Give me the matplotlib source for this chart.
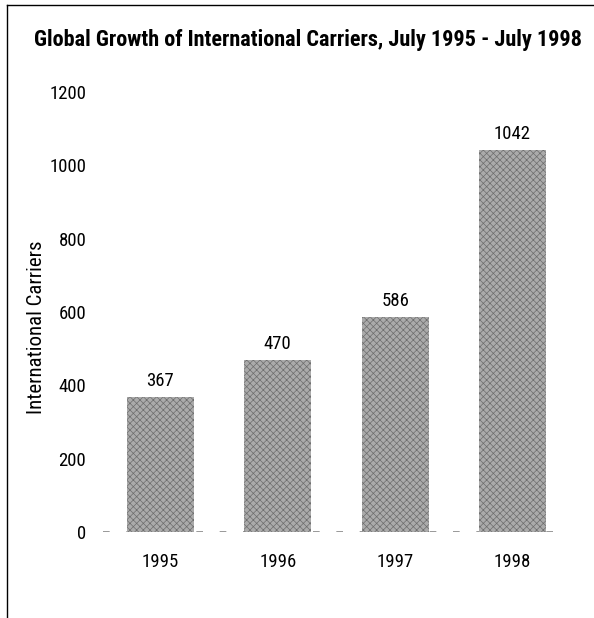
import numpy as np
import matplotlib
matplotlib.use('Agg')
import matplotlib.pyplot as plt
from matplotlib.lines import Line2D

# data
years = ['1995', '1996', '1997', '1998']
carriers = [367, 470, 586, 1042]
yticks = [0, 200, 400, 600, 800, 1000, 1200]

plt.rcParams['font.family'] = ['Roboto Condensed', 'Liberation Sans Narrow', 'DejaVu Sans']
plt.rcParams['font.stretch'] = 'condensed'
plt.rcParams['hatch.linewidth'] = 0.5

fig = plt.figure(figsize=(5.94, 6.18), dpi=100)
ax = fig.add_axes([103/594, 1 - 532/618, (557-103)/594, 440/618])

x = np.arange(len(years))
ax.axhline(0, color='#888888', lw=1.2, ls=(0, (4, 10)), zorder=1)
bars = ax.bar(x, carriers, width=0.571, color='#ababab', edgecolor='#6e6e6e',
              hatch='xxxxx', linewidth=0, zorder=2)

for xi, v in zip(x, carriers):
    ax.annotate(str(v), (xi, v), xytext=(0, 5), textcoords='offset points',
                ha='center', va='bottom', fontsize=13.5)

ax.set_xlim(-0.49, 3.38)
ax.set_ylim(0, 1200)
ax.set_xticks(x)
ax.set_xticklabels(years, fontsize=13.5)
ax.set_yticks(yticks)
ax.set_yticklabels([str(t) for t in yticks], fontsize=13.5)
ax.tick_params(length=0)
ax.tick_params(axis='y', pad=12)
ax.tick_params(axis='x', pad=15)
for s in ax.spines.values():
    s.set_visible(False)

ax.set_ylabel('International Carriers', fontsize=15)
ax.yaxis.set_label_coords((46 - 103) / 454, (532 - 327) / 440)

fig.text(308/594, 1 - 40/618, 'Global Growth of International Carriers, July 1995 - July 1998',
         ha='center', va='center', fontsize=16, fontweight='bold')

# scanned frame on left and top
fig.add_artist(Line2D([7/594, 7/594], [0, 1 - 5/618], color='black', lw=1))
fig.add_artist(Line2D([7/594, 1], [1 - 5/618, 1 - 5/618], color='black', lw=1))

fig.savefig('out.png', dpi=100)
